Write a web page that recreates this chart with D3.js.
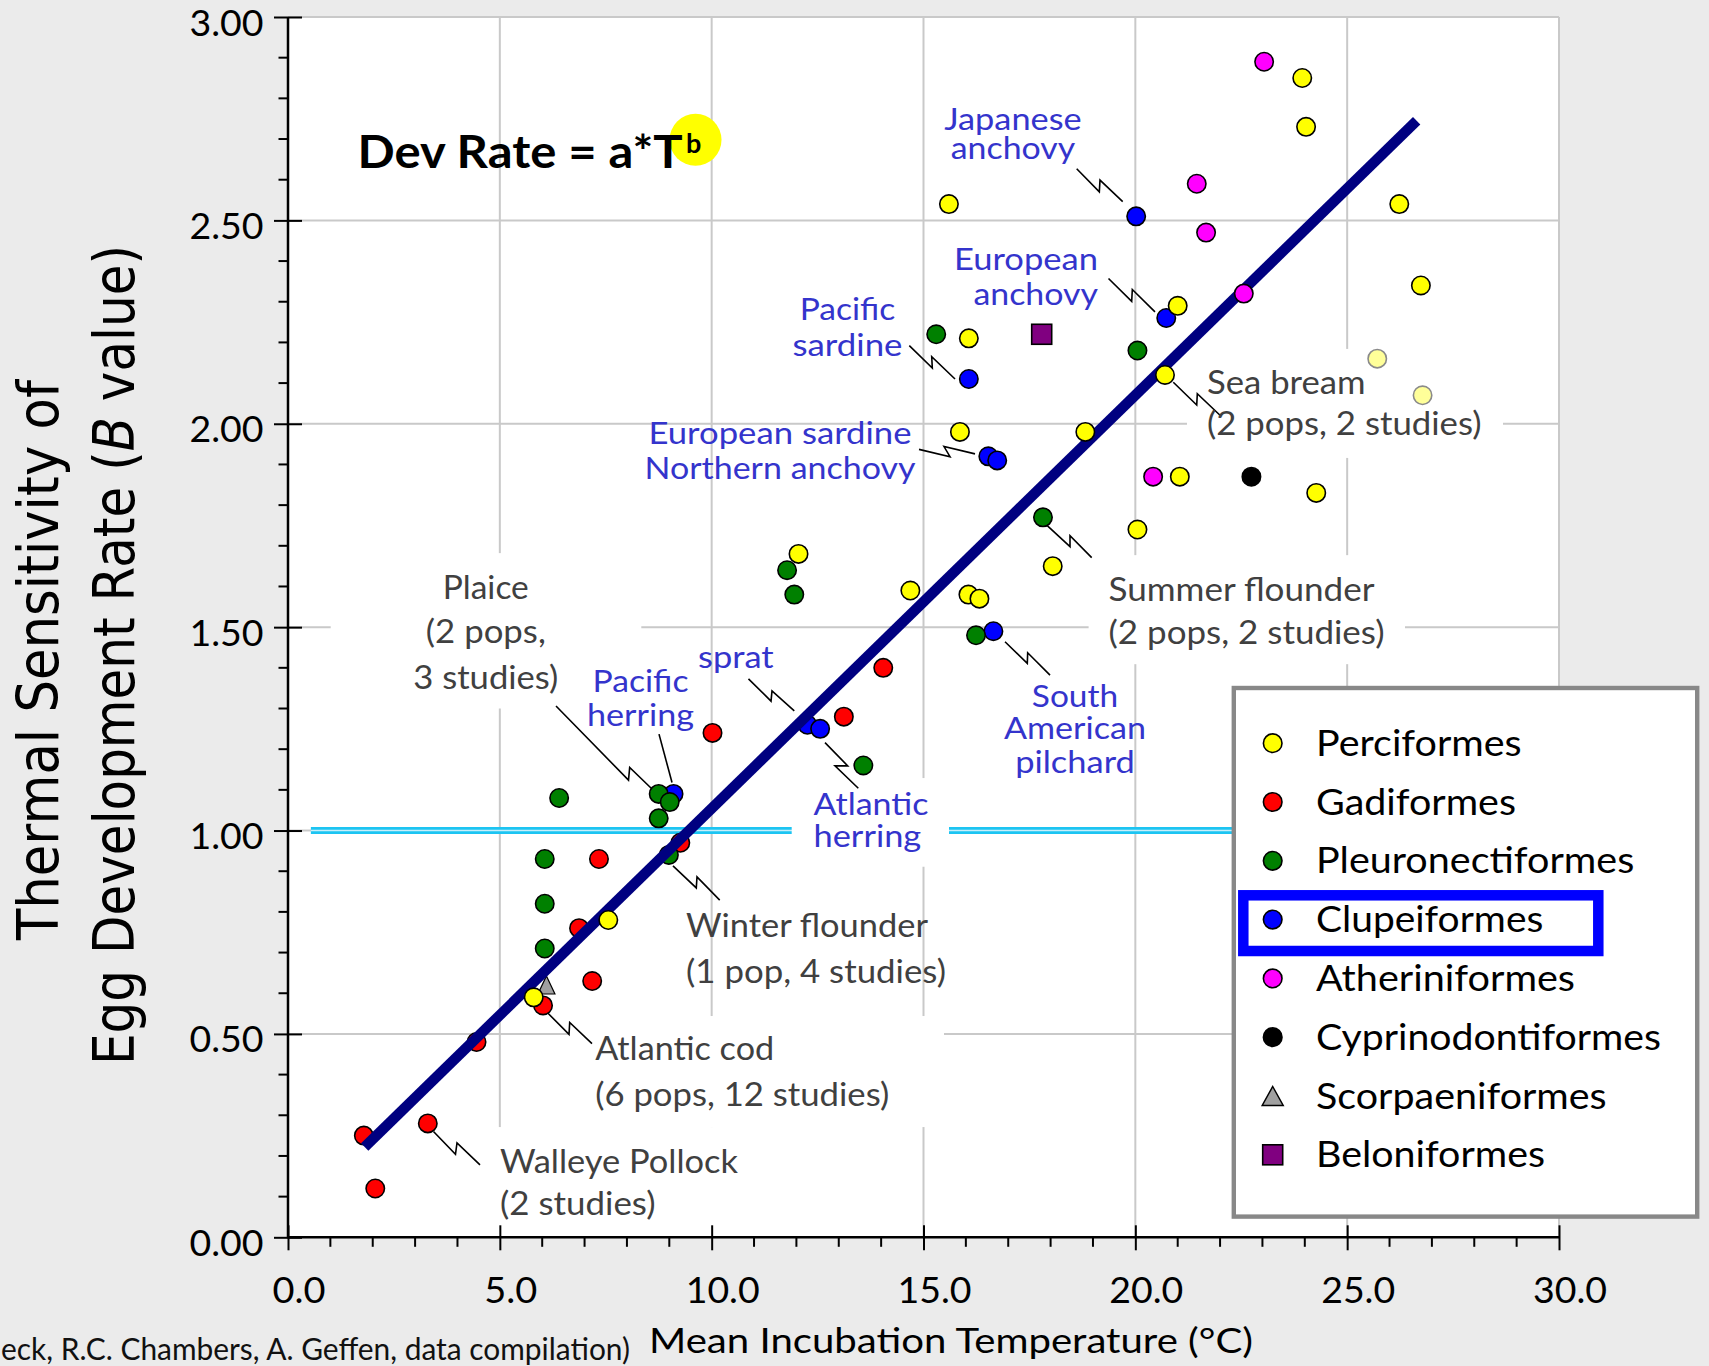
<!DOCTYPE html>
<html><head><meta charset="utf-8">
<script src="https://cdn.jsdelivr.net/npm/d3@7"></script>
<style>html,body{margin:0;padding:0;background:#ebebeb;} svg{display:block}</style>
</head><body>
<svg id="c" width="1709" height="1366"></svg>
<script>
// ---------------- DATA ----------------
const orderNames = ["Perciformes","Gadiformes","Pleuronectiformes","Clupeiformes","Atheriniformes","Cyprinodontiformes","Scorpaeniformes","Beloniformes"];
// [mean incubation temperature (°C), B value]
const perciformes = [[5.80,0.59],[7.56,0.78],[12.05,1.68],[14.69,1.59],[15.60,2.54],[16.07,2.21],[15.86,1.98],[16.06,1.58],[16.32,1.57],[18.05,1.65],[18.82,1.98],[20.05,1.74],[20.70,2.12],[21.00,2.29],[21.05,1.87],[23.94,2.85],[24.03,2.73],[24.27,1.83],[26.23,2.54],[26.74,2.34]];
const perciformesFaint = [[25.71,2.16],[26.78,2.07]];
const gadiformes = [[1.79,0.25],[2.06,0.12],[3.30,0.28],[4.45,0.48],[6.02,0.57],[6.87,0.76],[7.18,0.63],[7.34,0.93],[9.26,0.97],[10.02,1.24],[13.12,1.28],[14.05,1.40]];
const pleuronectiformes = [[6.06,0.71],[6.06,0.82],[6.06,0.93],[6.40,1.08],[8.75,1.09],[9.01,1.07],[8.75,1.03],[8.99,0.94],[11.78,1.64],[11.95,1.58],[13.58,1.16],[15.30,2.22],[16.24,1.48],[17.82,1.77],[20.05,2.18]];
const clupeiformes = [[9.10,1.09],[12.26,1.26],[12.56,1.25],[16.07,2.11],[16.53,1.92],[16.74,1.91],[16.65,1.49],[20.02,2.51],[20.73,2.26]];
const atheriniformes = [[20.42,1.87],[21.45,2.59],[21.67,2.47],[22.56,2.32],[23.04,2.89]];
const cyprinodontiformes = [[22.74,1.87]];
const scorpaeniformes = [[6.10,0.615]];
const beloniformes = [[17.79,2.22]];
const fitLine = [[1.81,0.222],[26.64,2.745]];
const refLine = [[0.54,1.0],[29.0,1.0]];
const xTickValues = [0,5,10,15,20,25,30];
const xTickLabels = ["0.0","5.0","10.0","15.0","20.0","25.0","30.0"];
const yTickValues = [0,0.5,1,1.5,2,2.5,3];
const yTickLabels = ["0.00","0.50","1.00","1.50","2.00","2.50","3.00"];

// ---------------- SETUP ----------------
const W = 1709, H = 1366;
const svg = d3.select("#c");
const x = d3.scaleLinear().domain([0,30]).range([288,1559]);
const y = d3.scaleLinear().domain([0,3]).range([1237.3,17]);
const line = d3.line().x(d=>x(d[0])).y(d=>y(d[1]));
const LABEL_FONT = "Lato, 'Open Sans', sans-serif";

svg.append("rect").attr("width",W).attr("height",H).attr("fill","#ebebeb");
svg.append("rect").attr("x",x(0)).attr("y",y(3)).attr("width",x(30)-x(0)).attr("height",y(0)-y(3)).attr("fill","#fff");

// grid
const grid = svg.append("g").attr("stroke","#c9c9c9").attr("stroke-width",2);
xTickValues.filter(v=>v>0).forEach(v=>grid.append("line").attr("x1",x(v)).attr("x2",x(v)).attr("y1",y(0)).attr("y2",y(3)));
yTickValues.filter(v=>v>0).forEach(v=>grid.append("line").attr("y1",y(v)).attr("y2",y(v)).attr("x1",x(0)).attr("x2",x(30)));

// reference line B = 1
svg.append("path").attr("d",line(refLine)).attr("stroke","#1cc4f2").attr("stroke-width",7).attr("fill","none");
svg.append("path").attr("d",line(refLine)).attr("stroke","#c6effb").attr("stroke-width",1.6).attr("fill","none");

// equation highlight circle
const eq = {x:1.643, y:2.628, supX:9.394, supY:2.665, cx:9.619, cy:2.698};
svg.append("circle").attr("cx",x(eq.cx)).attr("cy",y(eq.cy)).attr("r",26).attr("fill","#ffff00");

// ---------------- ANNOTATIONS ----------------
const labels = [
 {lines:["Plaice","(2 pops,","3 studies)"], x:4.669, ys:[1.568,1.460,1.349], anchor:"middle", len:[86,120,145], kind:"gray", box:[1.008,8.339,1.682,1.300]},
 {lines:["Sea bream","(2 pops, 2 studies)"], x:21.692, ys:[2.074,1.972], anchor:"start", len:[158.5,274.5], kind:"gray", box:[21.219,28.678,2.184,1.916]},
 {lines:["Summer flounder","(2 pops, 2 studies)"], x:19.367, ys:[1.565,1.459], anchor:"start", len:[266,276], kind:"gray", box:[18.897,26.365,1.677,1.409]},
 {lines:["Winter flounder","(1 pop, 4 studies)"], x:9.394, ys:[0.739,0.625], anchor:"start", len:[242,260], kind:"gray"},
 {lines:["Atlantic cod","(6 pops, 12 studies)"], x:7.251, ys:[0.436,0.322], anchor:"start", len:[179,294], kind:"gray", box:[6.609,15.484,0.544,0.271]},
 {lines:["Walleye Pollock","(2 studies)"], x:5.004, ys:[0.158,0.055], anchor:"start", len:[238,155.5], kind:"gray", box:[4.461,11.141,0.271,0.0]},
 {lines:["Japanese","anchovy"], x:17.112, ys:[2.723,2.652], anchor:"middle", len:[137.5,124.5], kind:"blue"},
 {lines:["European","anchovy"], x:19.119, ys:[2.378,2.293], anchor:"end", len:[144,124.6], kind:"blue"},
 {lines:["Pacific","sardine"], x:13.206, ys:[2.255,2.167], anchor:"middle", len:[95.7,110], kind:"blue"},
 {lines:["European sardine","Northern anchovy"], x:11.613, ys:[1.951,1.865], anchor:"middle", len:[263,271], kind:"blue"},
 {lines:["sprat"], x:9.677, ys:[1.400], anchor:"start", len:[75.7], kind:"blue"},
 {lines:["Pacific","herring"], x:8.320, ys:[1.340,1.257], anchor:"middle", len:[96,107], kind:"blue"},
 {lines:["Atlantic","herring"], x:12.404, ys:[1.038,0.959], anchor:"start", len:[115,107.7], kind:"blue", box:[11.889,15.602,1.129,0.911]},
 {lines:["South","American","pilchard"], x:18.576, ys:[1.304,1.224,1.141], anchor:"middle", len:[86.3,142,119.7], kind:"blue"}
];
const leaders = [
 [[3.434,0.260],[3.953,0.204],[3.989,0.232],[4.532,0.178]],
 [[6.097,0.555],[6.633,0.499],[6.649,0.528],[7.175,0.476]],
 [[9.087,0.913],[9.637,0.859],[9.654,0.886],[10.190,0.829]],
 [[6.326,1.306],[8.037,1.124],[8.065,1.155],[8.592,1.102]],
 [[8.757,1.237],[9.064,1.118]],
 [[10.869,1.373],[11.401,1.318],[11.424,1.343],[11.950,1.294]],
 [[12.675,1.216],[13.211,1.159],[12.911,1.159],[13.461,1.104]],
 [[14.665,2.192],[15.208,2.137],[15.194,2.165],[15.744,2.110]],
 [[14.894,1.937],[15.626,1.919],[15.484,1.944],[16.216,1.926]],
 [[18.616,2.627],[19.150,2.570],[19.166,2.599],[19.702,2.546]],
 [[19.367,2.357],[19.914,2.301],[19.929,2.330],[20.464,2.275]],
 [[20.896,2.102],[21.449,2.046],[21.463,2.074],[21.999,2.021]],
 [[17.908,1.751],[18.458,1.698],[18.458,1.725],[18.970,1.671]],
 [[16.924,1.464],[17.450,1.411],[17.459,1.437],[17.986,1.382]]
];

const boxG = svg.append("g");
labels.filter(l=>l.box).forEach(l=>{
  const b = l.box;
  boxG.append("rect").attr("x",x(b[0])).attr("y",y(b[2])).attr("width",x(b[1])-x(b[0])).attr("height",y(b[3])-y(b[2])).attr("fill","#fff");
});
const leadG = svg.append("g").attr("fill","none").attr("stroke","#000").attr("stroke-width",1.6);
leaders.forEach(p=>leadG.append("path").attr("d",line(p)));

const labG = svg.append("g").attr("font-family",LABEL_FONT);
labels.forEach(l=>{
  l.lines.forEach((s,i)=>{
    labG.append("text").attr("x",x(l.x)).attr("y",y(l.ys[i]))
      .attr("text-anchor",l.anchor)
      .attr("font-size", l.kind==="blue"?31:32.5)
      .attr("fill", l.kind==="blue"?"#3434cc":"#404040")
      .attr("textLength",l.len[i]).attr("lengthAdjust","spacingAndGlyphs")
      .text(s);
  });
});

// ---------------- MARKS ----------------
const R = 9.2;
function circles(data, fill, stroke){
  svg.append("g").selectAll("circle").data(data).join("circle")
    .attr("cx",d=>x(d[0])).attr("cy",d=>y(d[1])).attr("r",R)
    .attr("fill",fill).attr("stroke",stroke||"#000").attr("stroke-width",1.6);
}
const tri = (cx,cy,w,h)=>`M${cx},${cy-h*0.62}L${cx+w/2},${cy+h*0.38}L${cx-w/2},${cy+h*0.38}Z`;
svg.append("g").selectAll("path").data(scorpaeniformes).join("path")
  .attr("d",d=>tri(x(d[0]),y(d[1]),17,18)).attr("fill","#a0a0a0").attr("stroke","#000").attr("stroke-width",1.2);
circles(gadiformes,"#ff0000");
circles(clupeiformes,"#0000ff");
circles(pleuronectiformes,"#008000");
svg.append("path").attr("d",line(fitLine)).attr("stroke","#000080").attr("stroke-width",10.5).attr("fill","none").attr("stroke-linecap","butt");
circles(perciformes,"#ffff00");
circles(perciformesFaint,"#ffff99","#8a8a8a");
circles(atheriniformes,"#ff00ff");
circles(cyprinodontiformes,"#000000");
svg.append("g").selectAll("rect").data(beloniformes).join("rect")
  .attr("x",d=>x(d[0])-10).attr("y",d=>y(d[1])-10).attr("width",20).attr("height",20)
  .attr("fill","#800080").attr("stroke","#000").attr("stroke-width",1.6);

// ---------------- AXES ----------------
const yAxis = d3.axisLeft(y).tickValues(yTickValues).tickFormat((d,i)=>yTickLabels[i]).tickSize(14);
const gy = svg.append("g").attr("transform",`translate(${x(0)},0)`).call(yAxis);
gy.select(".domain").remove();
gy.selectAll(".tick line").attr("stroke","#000").attr("stroke-width",2).attr("x1",14);
gy.selectAll(".tick text").attr("x",-24.5).attr("dy",null).attr("y",18)
  .attr("font-family",LABEL_FONT).attr("font-size",36.5).attr("fill","#000").attr("text-anchor","end")
  .attr("textLength",74).attr("lengthAdjust","spacingAndGlyphs");

const xAxis = d3.axisBottom(x).tickValues(xTickValues).tickFormat((d,i)=>xTickLabels[i]).tickSize(13);
const gx = svg.append("g").attr("transform",`translate(0,${y(0)})`).call(xAxis);
gx.select(".domain").remove();
gx.selectAll(".tick line").attr("stroke","#000").attr("stroke-width",2).attr("y1",-12);
gx.selectAll(".tick text").attr("y",65.4).attr("dy",null).attr("x",10.5)
  .attr("font-family",LABEL_FONT).attr("font-size",36.5).attr("fill","#000").attr("text-anchor","middle")
  .attr("textLength",(d,i)=>xTickLabels[i].length===3?53:74).attr("lengthAdjust","spacingAndGlyphs");

const minor = svg.append("g").attr("stroke","#000").attr("stroke-width",2);
d3.range(0,30.001,1).filter(v=>v%5!==0).forEach(v=>minor.append("line").attr("x1",x(v)).attr("x2",x(v)).attr("y1",y(0)).attr("y2",y(0)+9.5));
d3.range(0,30.5,1).map(v=>v/10).filter(v=>Math.round(v*10)%5!==0).forEach(v=>minor.append("line").attr("y1",y(v)).attr("y2",y(v)).attr("x1",x(0)-9.5).attr("x2",x(0)));
svg.append("line").attr("x1",x(0)).attr("x2",x(0)).attr("y1",y(0)+1).attr("y2",y(3)).attr("stroke","#000").attr("stroke-width",2.5);
svg.append("line").attr("x1",x(0)).attr("x2",x(30)).attr("y1",y(0)).attr("y2",y(0)).attr("stroke","#000").attr("stroke-width",2.5);

// axis titles
svg.append("text").attr("x",649).attr("y",1353.3).attr("font-family",LABEL_FONT).attr("font-size",35.5).attr("fill","#000")
  .attr("textLength",604).attr("lengthAdjust","spacingAndGlyphs").text("Mean Incubation Temperature (°C)");
const yt = svg.append("g").attr("font-family","'DejaVu Sans', Verdana, sans-serif").attr("font-size",57).attr("fill","#000");
yt.append("text").attr("transform","translate(57.6,660) rotate(-90)").attr("text-anchor","middle")
  .attr("textLength",560).attr("lengthAdjust","spacingAndGlyphs").text("Thermal Sensitivity of");
const t2 = yt.append("text").attr("transform","translate(134.4,655) rotate(-90)").attr("text-anchor","middle")
  .attr("textLength",820).attr("lengthAdjust","spacingAndGlyphs");
t2.append("tspan").text("Egg Development Rate (");
t2.append("tspan").attr("font-style","italic").text("B");
t2.append("tspan").text(" value)");

// credit
svg.append("text").attr("x",630).attr("y",1360).attr("text-anchor","end").attr("font-family",LABEL_FONT).attr("font-size",31.5).attr("fill","#111")
  .attr("textLength",629).attr("lengthAdjust","spacingAndGlyphs").text("eck, R.C. Chambers, A. Geffen, data compilation)");

// ---------------- LEGEND ----------------
const lg = svg.append("g");
lg.append("rect").attr("x",1233.8).attr("y",688).attr("width",463.4).attr("height",528.6).attr("fill","#fff").attr("stroke","#888").attr("stroke-width",4.4);
const legendStyle = [
  {sym:"circle",fill:"#ffff00"},{sym:"circle",fill:"#ff0000"},{sym:"circle",fill:"#008000"},{sym:"circle",fill:"#0000ff"},
  {sym:"circle",fill:"#ff00ff"},{sym:"circle",fill:"#000000"},{sym:"triangle",fill:"#a0a0a0"},{sym:"square",fill:"#800080"}];
const legendLen = [205.7,200,318.3,227.3,259,345,290.7,229];
orderNames.forEach((name,i)=>{
  const cy = 743.2 + i*58.8, cx = 1272.7;
  const st = legendStyle[i];
  if(st.sym==="circle") lg.append("circle").attr("cx",cx).attr("cy",cy).attr("r",9.3).attr("fill",st.fill).attr("stroke","#000").attr("stroke-width",1.6);
  else if(st.sym==="triangle") lg.append("path").attr("d",`M${cx},${cy-9.5}L${cx+10.5},${cy+9.5}L${cx-10.5},${cy+9.5}Z`).attr("fill",st.fill).attr("stroke","#000").attr("stroke-width",1.5);
  else lg.append("rect").attr("x",cx-10).attr("y",cy-10).attr("width",20).attr("height",20).attr("fill",st.fill).attr("stroke","#000").attr("stroke-width",1.6);
  lg.append("text").attr("x",1316).attr("y",cy+12.5).attr("font-family",LABEL_FONT).attr("font-size",37).attr("fill","#000")
    .attr("textLength",legendLen[i]).attr("lengthAdjust","spacingAndGlyphs").text(name);
});
lg.append("rect").attr("x",1243.3).attr("y",895.3).attr("width",355).attr("height",55.7).attr("fill","none").attr("stroke","#0000ff").attr("stroke-width",10.5);

// ---------------- EQUATION ----------------
svg.append("text").attr("x",x(eq.x)).attr("y",y(eq.y)).attr("font-family",LABEL_FONT).attr("font-weight","bold").attr("font-size",46).attr("fill","#000")
  .attr("textLength",325).attr("lengthAdjust","spacingAndGlyphs").text("Dev Rate = a*T");
svg.append("text").attr("x",x(eq.supX)).attr("y",y(eq.supY)).attr("font-family",LABEL_FONT).attr("font-weight","bold").attr("font-size",27).attr("fill","#000")
  .text("b");
</script>
</body></html>
